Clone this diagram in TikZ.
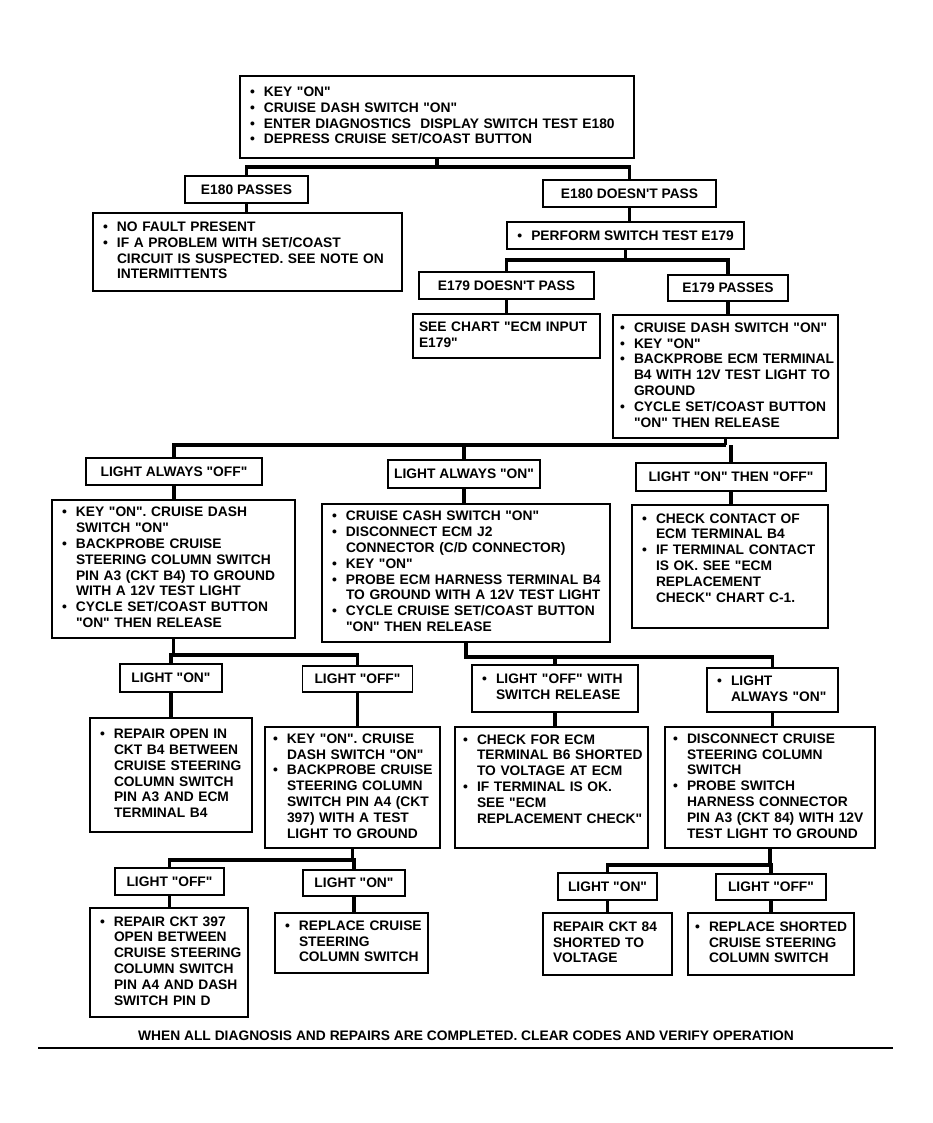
\documentclass[tikz,border=0pt]{standalone}
\usepackage{fontspec}
\setmainfont{Liberation Sans}[Ligatures=TeXOff]
\frenchspacing
\newcommand{\bulx}{\makebox[14pt][l]{\textbullet}}
\newcommand{\indx}{\hspace*{14pt}}
\newcommand{\tlx}[1]{\begin{tabular}{@{}l@{}}#1\end{tabular}}
\begin{document}
\begin{tikzpicture}[x=1pt,y=-1pt,
  txt/.style={font=\bfseries\fontsize{13.8}{15.8}\selectfont},
  box/.style={txt, draw, line width=1.3pt, inner xsep=10pt, inner ysep=2pt, align=left},
  lbl/.style={txt, draw, line width=1.3pt, inner sep=2pt, align=center},
  conn/.style={line width=3.6pt},
  bb/.style={box, minimum width=#1, text width=#1-20pt}
]
\useasboundingbox (0,0) rectangle (932,1123);

% --- boxes ---
\node[bb=394, minimum height=82] (top) at (437,117) {\tlx{\bulx KEY "ON"\\\bulx CRUISE DASH SWITCH "ON"\\\bulx ENTER DIAGNOSTICS\ \ DISPLAY SWITCH TEST E180\\\bulx DEPRESS CRUISE SET/COAST BUTTON}};
\node[lbl, minimum width=123, minimum height=27] (p180) at (246.5,189.5) {E180 PASSES};
\node[bb=309, minimum height=78] (nofault) at (247.5,252) {\tlx{\bulx NO FAULT PRESENT\\\bulx IF A PROBLEM WITH SET/COAST\\\indx CIRCUIT IS SUSPECTED. SEE NOTE ON\\\indx INTERMITTENTS}};
\node[lbl, minimum width=173, minimum height=27] (d180) at (629.5,193.5) {E180 DOESN'T PASS};
\node[lbl, minimum width=237, minimum height=27] (perform) at (625.5,235.5) {\bulx PERFORM SWITCH TEST E179};
\node[lbl, minimum width=175, minimum height=27] (d179) at (506.5,285.5) {E179 DOESN'T PASS};
\node[lbl, minimum width=120, minimum height=26] (p179) at (728,288) {E179 PASSES};
\node[bb=187, minimum height=44, inner xsep=6pt, text width=175pt] (seechart) at (506.5,336) {\tlx{SEE CHART "ECM INPUT\\E179"}};
\node[bb=225, minimum height=123, inner xsep=7pt, text width=211pt] (b179) at (725.5,376.5) {\tlx{\bulx CRUISE DASH SWITCH "ON"\\\bulx KEY "ON"\\\bulx BACKPROBE ECM TERMINAL\\\indx B4 WITH 12V TEST LIGHT TO\\\indx GROUND\\\bulx CYCLE SET/COAST BUTTON\\\indx "ON" THEN RELEASE}};

\node[lbl, minimum width=176, minimum height=27] (lao) at (174,471.5) {LIGHT ALWAYS "OFF"};
\node[lbl, minimum width=152, minimum height=28] (lan) at (464,474) {LIGHT ALWAYS "ON"};
\node[lbl, minimum width=190, minimum height=28] (lonoff) at (731,477) {LIGHT "ON" THEN "OFF"};

\node[bb=243, minimum height=138] (bl) at (173.5,569) {\tlx{\bulx KEY "ON". CRUISE DASH\\\indx SWITCH "ON"\\\bulx BACKPROBE CRUISE\\\indx STEERING COLUMN SWITCH\\\indx PIN A3 (CKT B4) TO GROUND\\\indx WITH A 12V TEST LIGHT\\\bulx CYCLE SET/COAST BUTTON\\\indx "ON" THEN RELEASE}};
\node[bb=288, minimum height=138] (bm) at (466,573) {\tlx{\bulx CRUISE CASH SWITCH "ON"\\\bulx DISCONNECT ECM J2\\\indx CONNECTOR (C/D CONNECTOR)\\\bulx KEY "ON"\\\bulx PROBE ECM HARNESS TERMINAL B4\\\indx TO GROUND WITH A 12V TEST LIGHT\\\bulx CYCLE CRUISE SET/COAST BUTTON\\\indx "ON" THEN RELEASE}};
\node[bb=196, minimum height=123] (br) at (730,566.5) {\tlx{\bulx CHECK CONTACT OF\\\indx ECM TERMINAL B4\\\bulx IF TERMINAL CONTACT\\\indx IS OK. SEE "ECM\\\indx REPLACEMENT\\\indx CHECK" CHART C-1.\\[14pt]}};

\node[lbl, minimum width=102, minimum height=28] (lon1) at (171,678) {LIGHT "ON"};
\node[lbl, minimum width=110, minimum height=26] (loff1) at (357.5,679) {LIGHT "OFF"};
\node[bb=162, minimum height=114] (repopen) at (171,775) {\tlx{\bulx REPAIR OPEN IN\\\indx CKT B4 BETWEEN\\\indx CRUISE STEERING\\\indx COLUMN SWITCH\\\indx PIN A3 AND ECM\\\indx TERMINAL B4}};
\node[bb=175, minimum height=121, inner xsep=8pt, text width=159pt] (keyon2) at (352.5,787.5) {\tlx{\bulx KEY "ON". CRUISE\\\indx DASH SWITCH "ON"\\\bulx BACKPROBE CRUISE\\\indx STEERING COLUMN\\\indx SWITCH PIN A4 (CKT\\\indx 397) WITH A TEST\\\indx LIGHT TO GROUND}};

\node[bb=166, minimum height=47] (loffsw) at (555,688.5) {\tlx{\bulx LIGHT "OFF" WITH\\\indx SWITCH RELEASE}};
\node[bb=131, minimum height=44] (lalw) at (772.5,690) {\tlx{\bulx LIGHT\\\indx ALWAYS "ON"}};
\node[bb=193, minimum height=121, inner xsep=8pt, text width=177pt] (check) at (551.5,787.5) {\tlx{\bulx CHECK FOR ECM\\\indx TERMINAL B6 SHORTED\\\indx TO VOLTAGE AT ECM\\\bulx IF TERMINAL IS OK.\\\indx SEE "ECM\\\indx REPLACEMENT CHECK"\\[14pt]}};
\node[bb=210, minimum height=121, inner xsep=8pt, text width=194pt] (disc) at (770,787.5) {\tlx{\bulx DISCONNECT CRUISE\\\indx STEERING COLUMN\\\indx SWITCH\\\bulx PROBE SWITCH\\\indx HARNESS CONNECTOR\\\indx PIN A3 (CKT 84) WITH 12V\\\indx TEST LIGHT TO GROUND}};

\node[lbl, minimum width=109, minimum height=27] (loff2) at (169.5,881.5) {LIGHT "OFF"};
\node[lbl, minimum width=102, minimum height=26] (lon2) at (354,883) {LIGHT "ON"};
\node[bb=158, minimum height=109] (rep397) at (169,962.5) {\tlx{\bulx REPAIR CKT 397\\\indx OPEN BETWEEN\\\indx CRUISE STEERING\\\indx COLUMN SWITCH\\\indx PIN A4 AND DASH\\\indx SWITCH PIN D}};
\node[bb=153, minimum height=60] (repcruise) at (351.5,943) {\tlx{\bulx REPLACE CRUISE\\\indx STEERING\\\indx COLUMN SWITCH}};

\node[lbl, minimum width=99, minimum height=27] (lon3) at (607.5,886.5) {LIGHT "ON"};
\node[lbl, minimum width=110, minimum height=26] (loff3) at (771,887) {LIGHT "OFF"};
\node[bb=129, minimum height=62] (rep84) at (607.5,944) {\tlx{REPAIR CKT 84\\SHORTED TO\\VOLTAGE}};
\node[bb=166, minimum height=62, inner xsep=7pt, text width=152pt] (repshort) at (771,944) {\tlx{\bulx REPLACE SHORTED\\\indx CRUISE STEERING\\\indx COLUMN SWITCH}};

\node[font=\bfseries\fontsize{13.8}{15}\selectfont] (foot) at (466,1036) {WHEN ALL DIAGNOSIS AND REPAIRS ARE COMPLETED. CLEAR CODES AND VERIFY OPERATION};
\coordinate (ruleL) at (38,1048);
\coordinate (ruleR) at (893,1048);
\draw[line width=1.2pt] (ruleL) -- (ruleR);

% --- bar coordinates ---
\coordinate (y1) at (0,167);
\coordinate (y2) at (0,260);
\coordinate (y3) at (0,445);
\coordinate (y4) at (0,655);
\coordinate (y5) at (0,657);
\coordinate (y6) at (0,860);
\coordinate (y7) at (0,865);

% --- connectors ---
\draw[conn] (top.south) -- (top.south |- y1);
\draw[conn] (p180.north) -- (p180.north |- y1) -- (d180.north |- y1) -- (d180.north);
\draw[conn] (p180.south) -- (p180.south |- nofault.north);
\draw[conn] (d180.south) -- (d180.south |- perform.north);
\draw[conn] (perform.south) -- (perform.south |- y2);
\draw[conn] (d179.north) -- (d179.north |- y2) -- (p179.north |- y2) -- (p179.north);
\draw[conn] (d179.south) -- (d179.south |- seechart.north);
\draw[conn] (p179.south) -- (p179.south |- b179.north);
\draw[conn] (b179.south) -- (b179.south |- y3);
\draw[conn] (lao.north) -- (lao.north |- y3) -- (b179.south |- y3);
\draw[conn] (lan.north) -- (lan.north |- y3);
\draw[conn] (lonoff.north) -- (lonoff.north |- y3);
\draw[conn] (lao.south) -- (lao.south |- bl.north);
\draw[conn] (lan.south) -- (lan.south |- bm.north);
\draw[conn] (lonoff.south) -- (lonoff.south |- br.north);

\draw[conn] (bl.south) -- (bl.south |- y4);
\draw[conn] (lon1.north) -- (lon1.north |- y4) -- (loff1.north |- y4) -- (loff1.north);
\draw[conn] (lon1.south) -- (lon1.south |- repopen.north);
\draw[conn] (loff1.south) -- (loff1.south |- keyon2.north);

\draw[conn] (bm.south) -- (bm.south |- y5) -- (lalw.north |- y5) -- (lalw.north);
\draw[conn] (loffsw.north) -- (loffsw.north |- y5);
\draw[conn] (loffsw.south) -- (loffsw.south |- check.north);
\draw[conn] (lalw.south) -- (lalw.south |- disc.north);

\draw[conn] (keyon2.south) -- (keyon2.south |- y6);
\draw[conn] (loff2.north) -- (loff2.north |- y6) -- (lon2.north |- y6) -- (lon2.north);
\draw[conn] (loff2.south) -- (loff2.south |- rep397.north);
\draw[conn] (lon2.south) -- (lon2.south |- repcruise.north);

\draw[conn] (disc.south) -- (disc.south |- y7);
\draw[conn] (lon3.north) -- (lon3.north |- y7) -- (loff3.north |- y7) -- (loff3.north);
\draw[conn] (lon3.south) -- (lon3.south |- rep84.north);
\draw[conn] (loff3.south) -- (loff3.south |- repshort.north);
\end{tikzpicture}
\end{document}
